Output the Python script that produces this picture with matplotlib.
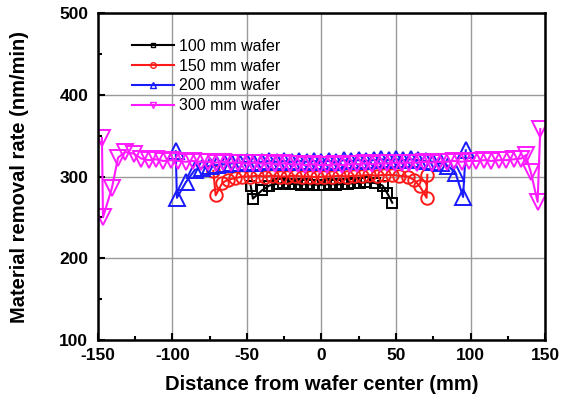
import numpy as np
import matplotlib
matplotlib.use("Agg")
import matplotlib.pyplot as plt
from matplotlib.ticker import MultipleLocator

plt.rcParams['font.family'] = ['Liberation Sans', 'DejaVu Sans']
plt.rcParams['axes.unicode_minus'] = False

# ---------------- data ----------------
x_100 = [-47.5, -46, -40, -35, -30, -26, -22, -18, -14, -10, -6, -2, 2, 6, 10,
         14, 18, 22, 26, 30, 36, 41, 44, 47.5]
y_100 = [289, 273, 283, 289, 291, 292, 291, 291, 290, 291, 290, 290, 290, 291, 290,
         291, 291, 292, 292, 293, 292, 289, 280, 268]

x_150 = [-72.6, -71, -66.6, -63, -58, -53, -48, -43, -38, -33, -28, -23, -18, -13,
         -8, -3, 2, 7, 12, 17, 22, 27, 32, 37, 42, 47, 52, 58, 62, 66, 70.5, 71]
y_150 = [307, 277, 292, 296, 298, 300, 300, 301, 300, 301, 300, 300, 301, 300,
         300, 299, 300, 300, 301, 300, 301, 301, 302, 301, 302, 302, 301, 300, 296, 288, 274, 302]

x_200 = [-97.8, -97, -91, -85, -80, -75, -70, -65, -60, -55, -50, -45, -40, -35,
         -30, -25, -20, -15, -10, -5, 0, 5, 10, 15, 20, 25, 30, 35, 40, 45, 50,
         55, 60, 65, 70, 75, 80, 85, 90, 95, 96.8]
y_200 = [331, 274, 293, 308, 311, 313, 314, 315, 316, 317, 318, 317, 318, 319,
         318, 319, 318, 319, 318, 319, 318, 319, 318, 320, 319, 320, 319, 320, 321, 320, 321,
         320, 321, 320, 319, 318, 316, 313, 304, 275, 332]

x_300 = [-147.3, -146.6, -140.6, -136.5, -131.8, -126, -121, -116, -111, -106, -101,
         -96, -91, -86, -81, -76, -71, -66, -61, -56, -51, -46, -41, -36, -31, -26,
         -21, -16, -11, -6, -1, 4, 9, 14, 19, 24, 29, 34, 39, 44, 49, 54, 59, 64, 69,
         74, 79, 84, 89, 94, 99, 104, 109, 114, 119, 124, 129, 134, 137, 140.5, 145, 146.8]
y_300 = [347, 250, 286, 323, 330, 328, 322, 320, 321, 319, 320,
         319, 318, 319, 318, 318, 317, 318, 317, 317, 316, 317, 316, 316, 315, 316,
         315, 315, 314, 315, 314, 314, 315, 314, 315, 315, 316, 315, 316, 316, 317, 316, 317, 317, 318,
         317, 318, 318, 319, 318, 319, 319, 320, 319, 320, 320, 321, 322, 326, 305, 269, 358]

series = [
    (x_100, y_100, 'black', 's', 7.5, '100 mm wafer'),
    (x_150, y_150, '#ff1a1a', 'o', 9, '150 mm wafer'),
    (x_200, y_200, '#1a1aff', '^', 11, '200 mm wafer'),
    (x_300, y_300, '#ff1aff', 'v', 11, '300 mm wafer'),
]

# ---------------- plot ----------------
fig = plt.figure(figsize=(5.66, 4.03), dpi=100)
ax = fig.add_axes([0.173, 0.156, 0.790, 0.812])

for xs, ys, col, mk, ms, lab in series:
    ax.plot(xs, ys, color=col, marker=mk, markersize=ms, markerfacecolor='none',
            markeredgecolor=col, markeredgewidth=1.4, linewidth=1.5, label=lab)

ax.set_xlim(-150, 150)
ax.set_ylim(100, 500)
ax.xaxis.set_major_locator(MultipleLocator(50))
ax.xaxis.set_minor_locator(MultipleLocator(25))
ax.yaxis.set_major_locator(MultipleLocator(100))
ax.yaxis.set_minor_locator(MultipleLocator(50))
ax.grid(True, which='major', color='#999999', linewidth=1)
ax.set_axisbelow(True)
ax.tick_params(which='both', direction='in', top=False, right=False,
               labelsize=12.5, width=1.5)
ax.tick_params(which='major', length=5)
ax.tick_params(axis='x', pad=6)
ax.tick_params(axis='y', pad=7)
ax.tick_params(which='minor', length=3)
for lbl in ax.get_xticklabels() + ax.get_yticklabels():
    lbl.set_fontweight('bold')
for sp in ax.spines.values():
    sp.set_linewidth(1.8)

ax.set_xlabel('Distance from wafer center (mm)', fontsize=14.5, fontweight='bold', labelpad=8)
ax.set_ylabel('Material removal rate (nm/min)', fontsize=14.5, fontweight='bold', labelpad=22)

leg = ax.legend(loc='upper left', bbox_to_anchor=(0.045, 0.965), frameon=False, fontsize=11.5,
                markerscale=0.45, handlelength=2.6, handletextpad=0.3, labelspacing=0.3)
for h in leg.legend_handles:
    h.set_markeredgewidth(1.0)

fig.savefig('out.png', dpi=100)
